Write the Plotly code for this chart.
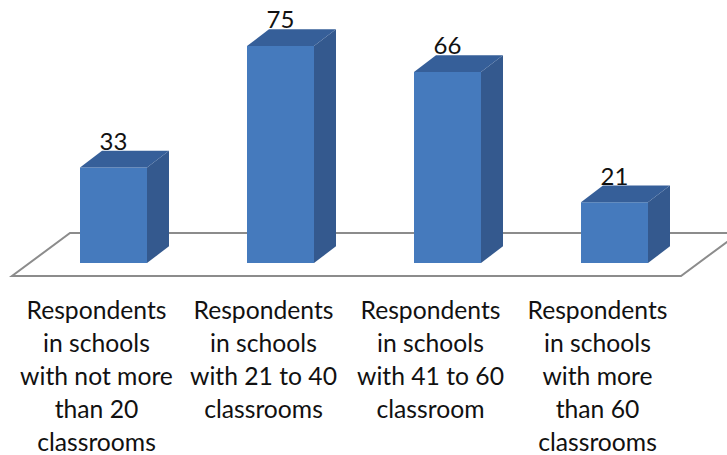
import plotly.graph_objects as go

categories = [
    "Respondents<br>in schools<br>with not more<br>than 20<br>classrooms",
    "Respondents<br>in schools<br>with 21 to 40<br>classrooms",
    "Respondents<br>in schools<br>with 41 to 60<br>classroom",
    "Respondents<br>in schools<br>with more<br>than 60<br>classrooms",
]
values = [33, 75, 66, 21]

W, H = 727, 455
STEP_PX = 167.0
UNIT_PX = 2.893
X0_PX = 113.5
BASE_PX = 263.0
BAR_W = 67 / STEP_PX
DX = 22 / STEP_PX
DY = 16.7 / UNIT_PX

FRONT = "#457ABD"
TOP = "#365F99"
SIDE = "#34598E"
FLOOR = "#8C8C8C"
TEXT = "#111111"
FONT = "Lato"

xr = [-X0_PX / STEP_PX, (W - X0_PX) / STEP_PX]
yr = [-(H - BASE_PX) / UNIT_PX, BASE_PX / UNIT_PX]


def px_x(p):
    return (p - X0_PX) / STEP_PX


def px_y(p):
    return (BASE_PX - p) / UNIT_PX


fig = go.Figure()

# floor outline, beneath the bars
floor_pts = [(12, 276), (681, 276), (739, 233), (70, 233)]
path = "M " + " L ".join(f"{px_x(a)},{px_y(b)}" for a, b in floor_pts) + " Z"
fig.add_shape(type="path", path=path, xref="x", yref="y", layer="below",
              line=dict(color=FLOOR, width=2))

idx = list(range(len(values)))

# front faces
fig.add_trace(go.Bar(x=idx, y=values, width=BAR_W, marker=dict(color=FRONT, line=dict(width=0))))

# side + top faces derived from the values
for i, v in zip(idx, values):
    l, r = i - BAR_W / 2, i + BAR_W / 2
    fig.add_trace(go.Scatter(
        x=[r, r + DX, r + DX, r, r], y=[0, DY, v + DY, v, 0],
        mode="lines", fill="toself", fillcolor=SIDE, line=dict(width=0), hoverinfo="skip"))
    fig.add_trace(go.Scatter(
        x=[l, l + DX, r + DX, r, l], y=[v, v + DY, v + DY, v, v],
        mode="lines", fill="toself", fillcolor=TOP, line=dict(width=0), hoverinfo="skip"))

# value labels
fig.add_trace(go.Scatter(
    x=idx, y=[v + DY - 5 / UNIT_PX for v in values], mode="text",
    text=[str(v) for v in values], textposition="top center",
    textfont=dict(family=FONT, size=24, color=TEXT), hoverinfo="skip", cliponaxis=False))

# category labels, one text mark per line for the 33 px line pitch
LINE_PX = 33
FIRST_PX = 313
for i, cat in enumerate(categories):
    lines = cat.split("<br>")
    fig.add_trace(go.Scatter(
        x=[i - 17 / STEP_PX] * len(lines),
        y=[px_y(FIRST_PX + LINE_PX * k) for k in range(len(lines))],
        mode="text", text=lines, textposition="middle center",
        textfont=dict(family=FONT, size=24.7, color=TEXT), hoverinfo="skip"))

fig.update_layout(
    width=W, height=H, margin=dict(l=0, r=0, t=0, b=0),
    paper_bgcolor="white", plot_bgcolor="white", showlegend=False,
    xaxis=dict(range=xr, visible=False),
    yaxis=dict(range=yr, visible=False),
)
fig.write_html("out.html", config=dict(displayModeBar=False),
               post_script="document.body.style.margin='0';document.body.style.overflow='hidden';")
